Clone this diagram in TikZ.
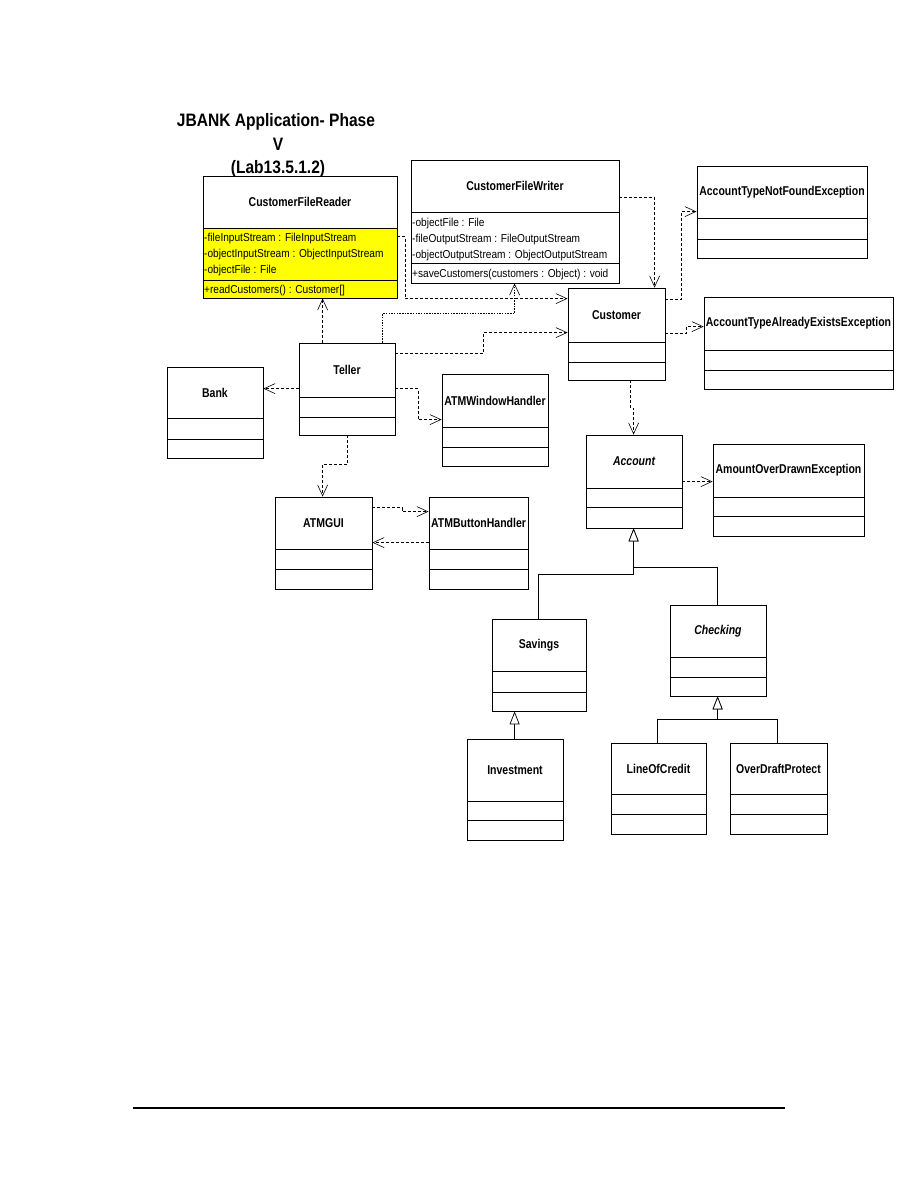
\documentclass[tikz,border=0pt]{standalone}
\usepackage{fontspec}
\usetikzlibrary{arrows.meta,calc}
\newfontfamily\nar[FakeStretch=0.82]{Liberation Sans}
\newfontfamily\attrf[FakeStretch=0.88]{Liberation Sans}
\newfontfamily\titf[FakeStretch=0.865]{Liberation Sans}
\definecolor{yel}{RGB}{255,255,0}
\tikzset{
  box/.style={draw=black, fill=white, line width=0.8pt, inner sep=0pt},
  cname/.style={font=\nar\bfseries\fontsize{12.8}{14}\selectfont, inner sep=0pt},
  cnamei/.style={font=\nar\bfseries\itshape\fontsize{12.8}{14}\selectfont, inner sep=0pt},
  attr/.style={font=\attrf\fontsize{11.5}{13}\selectfont, inner sep=0pt, anchor=base west},
  titl/.style={font=\titf\bfseries\fontsize{18}{22}\selectfont, inner sep=0pt, anchor=base},
  dep/.style={draw=black, line width=0.6pt, dash pattern=on 3pt off 2pt,
     -{Straight Barb[length=11pt,width=10pt,line width=0.6pt]}},
  depdot/.style={dep, line width=0.9pt, dash pattern=on 1.5pt off 1.2pt},
  gen/.style={draw=black, line width=0.8pt,
     -{Triangle[open,length=13pt,width=10pt,line width=0.7pt,fill=white]}},
}
% #1 name, #2 x1, #3 y1, #4 x2, #5 y2, #6 div1, #7 div2, #8 style, #9 label
\newcommand\umlbox[9]{%
  \node[box, minimum width={#4-#2}, minimum height={#5-#3}] (#1) at ({(#2+#4)/2},{(#3+#5)/2}) {};
  \draw[line width=0.8pt] (#2,#6) -- (#4,#6);
  \draw[line width=0.8pt] (#2,#7) -- (#4,#7);
  \node[#8] (#1-name) at ({(#2+#4)/2},{(#3+#6)/2}) {#9};
}
\begin{document}
\begin{tikzpicture}[x=1pt,y=-1pt]
\useasboundingbox[fill=white] (0,0) rectangle (918,1188);

% title
\node[titl] (title1) at (276,127) {JBANK Application- Phase};
\node[titl] (title2) at (278,150) {V};
\node[titl] (title3) at (278,173) {(Lab13.5.1.2)};

% classes
\umlbox{cfr}{203}{176}{397}{298}{228}{280}{cname}{CustomerFileReader}
\filldraw[fill=yel, draw=black, line width=0.8pt] (203,228) rectangle (397,298);
\draw[line width=0.8pt] (203,280) -- (397,280);
\node[attr] (cfr-a1) at (204,241) {-fileInputStream : FileInputStream};
\node[attr] (cfr-a2) at (204,257) {-objectInputStream : ObjectInputStream};
\node[attr] (cfr-a3) at (204,273) {-objectFile : File};
\node[attr] (cfr-o1) at (204,293) {+readCustomers() : Customer[]};

\umlbox{cfw}{411}{160}{619}{283}{212}{263}{cname}{CustomerFileWriter}
\node[attr] (cfw-a1) at (412,226) {-objectFile : File};
\node[attr] (cfw-a2) at (412,242) {-fileOutputStream : FileOutputStream};
\node[attr] (cfw-a3) at (412,258) {-objectOutputStream : ObjectOutputStream};
\node[attr] (cfw-o1) at (412,277) {+saveCustomers(customers : Object) : void};

\umlbox{atnf}{697}{166}{867}{258}{218}{239}{cname}{AccountTypeNotFoundException}
\umlbox{atae}{704}{297}{893}{389}{350}{370}{cname}{AccountTypeAlreadyExistsException}
\umlbox{customer}{568}{288}{665}{380}{342}{362}{cname}{Customer}
\umlbox{teller}{299}{343}{395}{435}{397}{417}{cname}{Teller}
\umlbox{bank}{167}{367}{263}{458}{418}{439}{cname}{Bank}
\umlbox{atmwh}{442}{374}{548}{466}{427}{447}{cname}{ATMWindowHandler}
\umlbox{atmgui}{275}{497}{372}{589}{549}{569}{cname}{ATMGUI}
\umlbox{atmbh}{429}{497}{528}{589}{549}{569}{cname}{ATMButtonHandler}
\umlbox{account}{586}{435}{682}{528}{488}{507}{cnamei}{Account}
\umlbox{aode}{713}{444}{864}{536}{497}{516}{cname}{AmountOverDrawnException}
\umlbox{savings}{492}{619}{586}{711}{671}{692}{cname}{Savings}
\umlbox{checking}{670}{605}{766}{696}{657}{677}{cnamei}{Checking}
\umlbox{investment}{467}{739}{563}{840}{801}{820}{cname}{Investment}
\umlbox{loc}{611}{743}{706}{834}{794}{814}{cname}{LineOfCredit}
\umlbox{odp}{730}{743}{827}{834}{794}{814}{cname}{OverDraftProtect}

% dependencies
\draw[dep] ($(teller.north west)+(24,0)$) -- ($(cfr.south west)+(120,0)$);
\draw[depdot] ($(teller.north west)+(84,0)$) |- ($(cfw.south west)+(104,30)$) -- ($(cfw.south west)+(104,0)$);
\draw[dep] ($(cfr.north east)+(0,61)$) -- ++(8,0) |- ($(customer.north west)+(0,11)$);
\draw[dep] ($(cfw.north east)+(0,38)$) -| ($(customer.north west)+(87,0)$);
\draw[dep] ($(customer.north east)+(0,12)$) -- ++(16,0) |- ($(atnf.north west)+(0,46)$);
\draw[dep] ($(customer.north east)+(0,46)$) -- ++(21,0) |- ($(atae.north west)+(0,30)$);
\draw[dep] ($(teller.north east)+(0,11)$) -- ++(88,0) |- ($(customer.north west)+(0,45)$);
\draw[dep] ($(teller.north west)+(0,46)$) -- ($(bank.north east)+(0,22)$);
\draw[dep] ($(teller.north east)+(0,46)$) -- ++(23,0) |- ($(atmwh.north west)+(0,46)$);
\draw[dep] ($(teller.south west)+(49,0)$) |- ($(atmgui.north west)+(48,-32)$) -- ($(atmgui.north west)+(48,0)$);
\draw[dep] ($(atmgui.north east)+(0,11)$) -- ++(30,0) |- ($(atmbh.north west)+(0,15)$);
\draw[dep] ($(atmbh.north west)+(0,46)$) -- ($(atmgui.north east)+(0,46)$);
\draw[dep] ($(customer.south west)+(63,0)$) -- ++(0,28) -- ++(3,0) -- ($(account.north west)+(48,0)$);
\draw[dep] ($(account.north east)+(0,47)$) -- ($(aode.north west)+(0,38)$);

% generalizations
\draw[gen] ($(savings.north west)+(47,0)$) -- ++(0,-44) -| ($(account.south west)+(48,0)$);
\draw[gen] ($(checking.north west)+(48,0)$) |- ($(account.south west)+(48,39)$) -- ($(account.south west)+(48,0)$);
\draw[gen] ($(investment.north west)+(48,0)$) -- ($(savings.south west)+(23,0)$);
\draw[gen] ($(loc.north west)+(47,0)$) |- ($(checking.south west)+(48,23)$) -- ($(checking.south west)+(48,0)$);
\draw[gen] ($(odp.north west)+(48,0)$) |- ($(checking.south west)+(48,23)$) -- ($(checking.south west)+(48,0)$);

% footer rule
\coordinate (ruleL) at (133,1108);
\coordinate (ruleR) at (785,1108);
\draw[line width=1.2pt] (ruleL) -- (ruleR);
\end{tikzpicture}
\end{document}
